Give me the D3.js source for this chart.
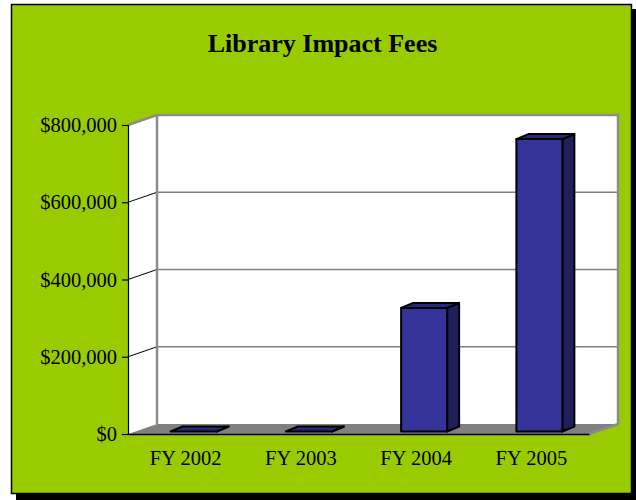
<!DOCTYPE html>
<html><head><meta charset="utf-8">
<script src="https://cdn.jsdelivr.net/npm/d3@7"></script>
<style>
html,body{margin:0;padding:0;background:#fff;}
svg{display:block;}
text{font-family:"Liberation Serif","Times New Roman",serif;fill:#000;}
</style></head>
<body>
<svg id="chart" width="636" height="500"></svg>
<script>
const title = "Library Impact Fees";
const categories = ["FY 2002", "FY 2003", "FY 2004", "FY 2005"];
const values = [0, 0, 320000, 757000];
const yTicks = [0, 200000, 400000, 600000, 800000];
const yMax = 800000;

(function () {
const svg = d3.select("#chart");

// frame + shadow
svg.append("rect").attr("x", 16).attr("y", 9).attr("width", 621).attr("height", 491).attr("fill", "#000");
svg.append("rect").attr("x", 11.5).attr("y", 4.5).attr("width", 620).attr("height", 489)
  .attr("fill", "#99cc00").attr("stroke", "#000").attr("stroke-width", 1.5);

svg.append("text").attr("x", 322.5).attr("y", 52).attr("text-anchor", "middle")
  .attr("font-size", 26).attr("font-weight", "bold").text(title);

// 3D geometry
const pLeft = 128, pRight = 589, pTop = 125, pBottom = 434;
const dx = 29, dy = -10;       // wall depth
const bdx = 12, bdy = -5;      // bar depth
const bsx = 8, bsy = -2.5;     // bar placement inside depth
const barW = 46;

const y = d3.scaleLinear().domain([0, yMax]).range([pBottom, pTop]);
const x = d3.scaleBand().domain(categories).range([pLeft, pRight]).padding(0);

const pts = a => a.map(p => p.join(",")).join(" ");

// floor
svg.append("polygon").attr("points", pts([[pLeft, pBottom], [pLeft + dx, pBottom + dy], [pRight + dx, pBottom + dy], [pRight, pBottom]]))
  .attr("fill", "#808080");
// side wall
svg.append("polygon").attr("points", pts([[pLeft, pBottom], [pLeft, pTop], [pLeft + dx, pTop + dy], [pLeft + dx, pBottom + dy]]))
  .attr("fill", "#fff");
// back wall
svg.append("rect").attr("x", pLeft + dx).attr("y", pTop + dy).attr("width", pRight - pLeft).attr("height", pBottom - pTop)
  .attr("fill", "#fff");

// gridlines
yTicks.filter(t => t > 0 && t < yMax).forEach(t => {
  svg.append("line").attr("x1", pLeft + dx).attr("x2", pRight + dx).attr("y1", y(t) + dy).attr("y2", y(t) + dy)
    .attr("stroke", "#808080").attr("stroke-width", 1.5);
  svg.append("line").attr("x1", pLeft).attr("x2", pLeft + dx).attr("y1", y(t)).attr("y2", y(t) + dy)
    .attr("stroke", "#000").attr("stroke-width", 1);
});
// wall borders
svg.append("path").attr("d", `M${pLeft},${pTop}L${pLeft + dx},${pTop + dy}L${pRight + dx},${pTop + dy}L${pRight + dx},${pBottom + dy}L${pRight},${pBottom}`)
  .attr("fill", "none").attr("stroke", "#8c8c8c").attr("stroke-width", 2.5).attr("stroke-linejoin", "miter");
svg.append("line").attr("x1", pLeft + dx).attr("x2", pLeft + dx).attr("y1", pTop + dy).attr("y2", pBottom + dy)
  .attr("stroke", "#8c8c8c").attr("stroke-width", 2.5);

// bars
const bars = svg.append("g");
categories.forEach((c, i) => {
  const x0 = x(c) + x.bandwidth() / 2 - barW / 2 + bsx;
  const x1 = x0 + barW;
  const yb = y(0) + bsy;
  const yt = y(values[i]) + bsy;
  const g = bars.append("g").attr("stroke", "#000").attr("stroke-width", 2).attr("stroke-linejoin", "round");
  g.append("polygon").attr("points", pts([[x1, yb], [x1, yt], [x1 + bdx, yt + bdy], [x1 + bdx, yb + bdy]])).attr("fill", "#1f1f5c");
  g.append("polygon").attr("points", pts([[x0, yt], [x0 + bdx, yt + bdy], [x1 + bdx, yt + bdy], [x1, yt]])).attr("fill", "#29297a");
  g.append("rect").attr("x", x0).attr("y", yt).attr("width", barW).attr("height", Math.max(0, yb - yt)).attr("fill", "#333399");
});

// axes
const yAxis = d3.axisLeft(y).tickValues(yTicks).tickSize(6).tickPadding(5)
  .tickFormat(d => "$" + d3.format(",")(d));
const ga = svg.append("g").attr("transform", `translate(${pLeft},0)`).call(yAxis);
ga.select(".domain").attr("stroke", "#000").attr("stroke-width", 1.2);
ga.selectAll(".tick line").attr("stroke", "#000").attr("stroke-width", 1.2);
ga.selectAll(".tick text").attr("font-size", 20.5).attr("font-family", "Liberation Serif").attr("fill", "#000");

const xAxis = d3.axisBottom(x).tickSize(0).tickPadding(16);
const gx = svg.append("g").attr("transform", `translate(0,${pBottom})`).call(xAxis);
gx.select(".domain").attr("stroke", "#000").attr("stroke-width", 1.5);
gx.selectAll(".tick text").attr("font-size", 20.5).attr("font-family", "Liberation Serif").attr("fill", "#000");
})();
</script>
</body></html>
